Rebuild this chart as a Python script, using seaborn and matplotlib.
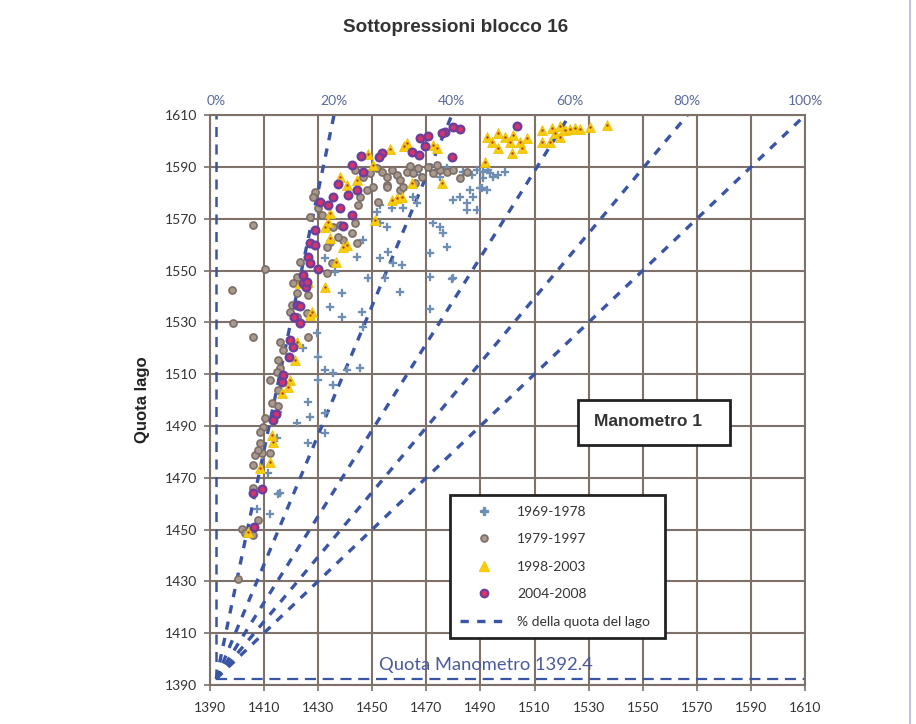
import numpy as np
import pandas as pd
import matplotlib
matplotlib.use("Agg")
import matplotlib.pyplot as plt
import seaborn as sns
from matplotlib.lines import Line2D
from matplotlib.patches import Rectangle

title = "Sottopressioni blocco 16"
y_label = "Quota lago"
x_ticks = [1390, 1410, 1430, 1450, 1470, 1490, 1510, 1530, 1550, 1570, 1590, 1610]
y_ticks = [1390, 1410, 1430, 1450, 1470, 1490, 1510, 1530, 1550, 1570, 1590, 1610]
percentages = [0, 20, 40, 60, 80, 100]
quota_manometro = 1392.4
series_labels = ["1969-1978", "1979-1997", "1998-2003", "2004-2008"]
line_label = "% della quota del lago"
box_label = "Manometro 1"

s69_x = [1490.9,1492.8,1494.6,1496.5,1499.1,1490.6,1483.5,1486.9,1488.7,1490.9,1493.5,1492.4,1489.8,
         1475.0,1473.9,1477.6,1467.6,1465.0,1466.5,1461.3,1457.3,1452.8,1451.7,1452.8,1455.4,1446.6,
         1452.8,1455.8,1457.7,1444.3,1472.4,1475.0,1476.1,1477.6,1471.3,1479.8,1482.4,1485.0,1487.2,
         1488.7,1485.0,1486.1,1479.8,1471.3,1461.0,1454.7,1448.4,1460.2,1479.5,1438.8,1436.2,1432.5,
         1446.2,1434.4,1438.8,1446.6,1429.6,1424.4,1429.9,1432.5,1440.6,1445.5,1435.5,1435.5,1429.9,
         1426.2,1427.0,1432.5,1422.2,1432.5,1426.2,1414.8,1411.4,1415.9,1471.3,1415.1,1415.1,1412.2,1407.4]
s69_y = [1588.0,1588.8,1586.1,1586.8,1588.0,1581.8,1588.0,1586.8,1588.8,1585.7,1587.6,1581.0,1581.8,
         1586.1,1588.8,1589.5,1586.8,1578.3,1576.0,1574.1,1574.1,1575.3,1572.5,1568.3,1566.8,1561.7,
         1554.8,1557.1,1552.9,1555.2,1568.3,1566.8,1564.4,1559.0,1556.7,1577.2,1578.3,1576.0,1578.3,
         1573.3,1573.3,1581.0,1547.1,1547.5,1552.1,1547.1,1547.1,1541.7,1546.7,1541.3,1549.4,1554.8,
         1533.9,1535.9,1532.0,1528.2,1525.9,1520.0,1516.6,1511.5,1511.5,1512.3,1510.4,1505.8,1507.7,
         1499.2,1493.4,1494.9,1491.1,1487.2,1483.4,1485.3,1471.8,1464.0,1535.1,1495.3,1463.7,1456.0,1457.9]

s79_x = [1398.1,1398.5,1405.9,1405.9,1410.3,1400.4,
         1401.8,1402.9,1405.9,1405.9,1407.7,
         1422.2,1420.3,1419.6,1422.2,1426.2,1415.9,1417.0,1415.1,1415.9,1414.8,1412.2,1415.1,1412.9,
         1415.1,1410.3,1409.6,1408.5,1408.5,1406.7,1409.2,1407.7,1412.2,1405.9,1426.2,1425.9,
         1443.6,1446.6,1449.1,1451.7,1453.6,1455.4,1457.3,1459.1,1460.2,1462.8,1465.0,1466.9,1468.4,
         1450.3,1455.4,1460.2,1461.3,1465.8,1472.4,1475.0,1477.6,1479.8,1482.4,1485.0,1428.8,1428.1,
         1429.9,1431.4,1427.0,1435.5,1438.1,1443.6,1442.5,1444.3,1434.4,1433.3,1435.1,1433.3,1423.3,
         1422.2,1420.7,1452.1,1455.4,1448.0,1445.5,1444.7,1439.2,1437.3,1470.6,1463.9,1473.9]
s79_y = [1542.4,1529.7,1524.3,1567.5,1550.5,1430.9,
         1450.2,1448.6,1447.8,1466.0,1453.6,
         1541.3,1536.6,1533.9,1532.0,1524.3,1522.4,1519.3,1515.4,1512.3,1510.8,1507.7,1503.8,1498.8,
         1497.6,1493.0,1489.5,1487.6,1483.4,1478.7,1479.5,1480.7,1479.5,1474.9,1540.5,1533.6,
         1588.8,1586.1,1587.6,1589.5,1588.0,1586.1,1588.8,1586.8,1584.9,1588.0,1587.6,1589.5,1586.1,
         1582.2,1583.0,1581.0,1582.2,1583.7,1587.6,1588.8,1588.0,1588.8,1585.7,1588.0,1580.3,1578.3,
         1574.1,1571.4,1570.6,1566.8,1567.5,1568.3,1564.4,1560.6,1561.0,1559.0,1552.9,1549.0,1553.2,
         1547.5,1545.1,1576.4,1582.2,1581.0,1578.3,1575.3,1561.7,1562.9,1589.9,1590.3,1590.7]

s98_x = [1492.4,1494.3,1496.5,1499.1,1500.9,1502.0,1504.6,1507.2,1501.6,1505.3,1496.5,1512.7,1512.7,
         1516.4,1517.5,1519.4,1521.2,1523.1,1524.9,1526.8,1530.5,1536.8,1515.7,1519.4,1491.7,
         1456.5,1461.7,1448.4,1450.3,1444.3,1438.1,1440.6,1434.4,1433.6,1432.5,1440.6,1439.2,1436.6,
         1434.4,1457.3,1459.1,1461.0,1451.0,1464.7,1475.8,1472.4,1473.9,1432.5,1426.2,1423.3,1462.8,
         1427.7,1427.0,1422.2,1421.4,1419.6,1418.8,1416.6,1412.9,1413.3,1412.2,1408.5,1404.0]
s98_y = [1601.5,1599.6,1603.1,1601.5,1599.6,1602.3,1599.6,1601.1,1595.3,1597.3,1597.3,1604.2,1599.6,
         1605.0,1603.1,1605.8,1604.2,1604.6,1605.0,1604.6,1605.4,1606.1,1599.6,1601.5,1591.9,
         1596.9,1598.0,1594.9,1590.7,1584.9,1586.1,1583.0,1572.2,1568.7,1566.8,1559.8,1559.0,1553.2,
         1562.5,1577.2,1578.0,1578.3,1569.5,1583.7,1583.7,1598.4,1597.3,1543.6,1545.5,1545.1,1599.2,
         1533.9,1532.8,1522.4,1515.4,1507.7,1505.0,1502.7,1486.5,1483.7,1476.0,1473.7,1449.0]

s04_x = [1405.9,1409.2,1406.3,1424.4,1425.5,1422.2,1423.3,1421.0,1423.3,1419.6,1420.7,1419.2,1417.0,
         1416.6,1414.4,1413.3,
         1479.8,1482.4,1476.9,1475.8,1467.6,1470.6,1464.7,1467.3,1469.5,1453.6,1452.5,1445.8,1446.6,
         1442.5,1479.5,
         1437.3,1444.3,1441.0,1435.5,1433.6,1438.1,1430.7,1442.5,1439.2,1428.8,1427.0,1428.8,1426.2,
         1427.0,1429.9,1424.4,1425.9,1503.5]
s04_y = [1464.0,1465.6,1450.9,1545.1,1543.6,1536.6,1536.3,1532.0,1529.7,1523.1,1520.4,1516.6,1509.6,
         1506.9,1494.6,1492.2,
         1605.4,1604.6,1603.4,1603.0,1601.1,1601.9,1595.7,1594.6,1598.0,1595.3,1593.8,1594.2,1588.0,
         1590.7,1593.8,
         1583.4,1581.0,1579.1,1578.3,1575.3,1574.1,1576.4,1571.4,1567.1,1565.6,1560.6,1559.8,1555.2,
         1552.9,1550.5,1548.2,1545.5,1605.8]

sns.set_theme(style="white")
plt.rcParams["font.family"] = ["Lato", "DejaVu Sans"]

GRID = "#7d716a"
BLUE = "#3b55a6"
PCTCOL = "#5a6a98"

fig = plt.figure(figsize=(9.16, 7.24), dpi=100)
ax = fig.add_axes([0.229, 0.054, 0.650, 0.787])

# percentage lines
y_top = y_ticks[-1]
for p in percentages:
    yy = np.array([quota_manometro, y_top])
    xx = quota_manometro + p / 100.0 * (yy - quota_manometro)
    if p == 0:
        ax.plot(xx, yy, color=BLUE, lw=1.8, dashes=(4, 3), zorder=2)
    else:
        ax.plot(xx, yy, color=BLUE, lw=2.4, dashes=(2.5, 2.5), zorder=2)
ax.plot([quota_manometro, x_ticks[-1]], [quota_manometro, quota_manometro],
        color=BLUE, lw=1.6, dashes=(5, 3), zorder=2)

df69 = pd.DataFrame({"x": s69_x, "y": s69_y})
df79 = pd.DataFrame({"x": s79_x, "y": s79_y})
df98 = pd.DataFrame({"x": s98_x, "y": s98_y})
df04 = pd.DataFrame({"x": s04_x, "y": s04_y})

sns.scatterplot(data=df69, x="x", y="y", ax=ax, marker="P", s=30, color="#6e8fb3",
                edgecolor="#6e8fb3", linewidth=0.2, zorder=3, legend=False)
sns.scatterplot(data=df79, x="x", y="y", ax=ax, marker="o", s=26, color="#a8998f",
                edgecolor="#7c6e66", linewidth=1.2, zorder=4, legend=False)
sns.scatterplot(data=df98, x="x", y="y", ax=ax, marker="^", s=50, color="#f7cc10",
                edgecolor="#f0c000", linewidth=0.6, zorder=5, legend=False)
sns.scatterplot(data=df98, x="x", y="y", ax=ax, marker="o", s=3, color="#b03a2a",
                linewidth=0, zorder=5.5, legend=False)
sns.scatterplot(data=df04, x="x", y="y", ax=ax, marker="o", s=30, color="#d5336a",
                edgecolor="#6b3f9c", linewidth=1.7, zorder=6, legend=False)

ax.set_xlim(x_ticks[0], x_ticks[-1])
ax.set_ylim(y_ticks[0], y_ticks[-1])
ax.set_xticks(x_ticks)
ax.set_yticks(y_ticks)
ax.grid(True, color=GRID, lw=1.5)
ax.set_axisbelow(True)
for s in ax.spines.values():
    s.set_color(GRID)
    s.set_linewidth(1.5)
ax.tick_params(axis="both", direction="inout", length=8, width=1.2, color=GRID,
               labelsize=10, labelcolor="#333333")
ax.tick_params(axis="x", pad=8, bottom=True)
ax.tick_params(axis="y", pad=5, left=True)
ax.set_xlabel("")
ax.set_ylabel(y_label, fontsize=12, fontweight="bold", family=["Liberation Sans"],
              labelpad=11, color="#222222")

# top percentage axis
ax2 = ax.twiny()
ax2.set_xlim(ax.get_xlim())
pct_pos = [quota_manometro + p / 100.0 * (y_top - quota_manometro) for p in percentages]
ax2.set_xticks(pct_pos)
ax2.set_xticklabels([f"{p}%" for p in percentages])
ax2.tick_params(axis="x", length=0, labelsize=10, labelcolor=PCTCOL, pad=6)
for s in ax2.spines.values():
    s.set_visible(False)
ax2.grid(False)

ax.text(1452.5, 1397.6, f"Quota Manometro {quota_manometro}", color="#4a5a9e",
        fontsize=13.2, va="center", ha="left", zorder=7)

# Manometro box
ax.add_patch(Rectangle((0.618, 0.421), 0.256, 0.079, transform=ax.transAxes,
                       facecolor="white", edgecolor="#222222", lw=2, zorder=8))
ax.text(0.645, 0.462, box_label, transform=ax.transAxes, fontsize=12.5,
        fontweight="bold", family=["Liberation Sans"], va="center", ha="left",
        color="#333333", zorder=9)

handles = [
    Line2D([], [], marker="P", ls="", color="#6e8fb3", markersize=6),
    Line2D([], [], marker="o", ls="", markerfacecolor="#a8998f", markeredgecolor="#7c6e66",
           markersize=5, markeredgewidth=1.2),
    Line2D([], [], marker="^", ls="", color="#f7cc10", markersize=7),
    Line2D([], [], marker="o", ls="", markerfacecolor="#d5336a", markeredgecolor="#6b3f9c",
           markersize=5.5, markeredgewidth=1.5),
    Line2D([], [], color=BLUE, lw=2.4, dashes=(2.5, 2.5)),
]
leg = ax.legend(handles, series_labels + [line_label], loc="lower left",
                bbox_to_anchor=(0.403, 0.082, 0.362, 0.26), mode="expand",
                frameon=True, fancybox=False, framealpha=1, edgecolor="#222222",
                fontsize=10, labelspacing=1.12, handlelength=3.4, borderpad=0.75,
                handletextpad=0.7, borderaxespad=0)
leg.get_frame().set_linewidth(2)
leg.set_zorder(10)
for t in leg.get_texts():
    t.set_color("#333333")

fig.text(0.497, 0.962, title, ha="center", va="center", fontsize=13.6,
         fontweight="bold", family=["Liberation Sans"], color="#333333")
fig.add_artist(Line2D([0.993, 0.993], [0.0, 1.0], transform=fig.transFigure,
                      color="#b8b8d8", lw=1.2))

fig.savefig("out.png", dpi=100)
